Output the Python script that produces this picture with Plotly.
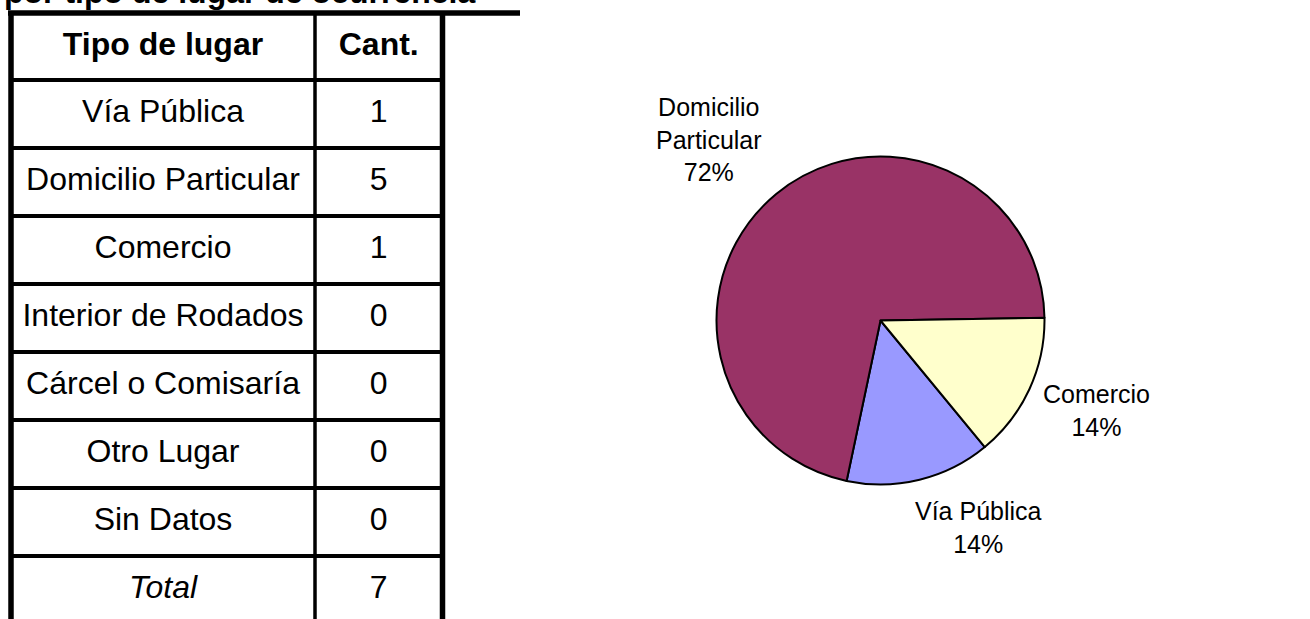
import plotly.graph_objects as go

# ---- data ----
title_text = "por tipo de lugar de ocurrencia"
header = ["Tipo de lugar", "Cant."]
lugares = ["Vía Pública", "Domicilio Particular", "Comercio", "Interior de Rodados",
           "Cárcel o Comisaría", "Otro Lugar", "Sin Datos"]
cantidades = [1, 5, 1, 0, 0, 0, 0]
total_label = "Total"
total_value = 7
pie_colors = {"Vía Pública": "#9999FF", "Domicilio Particular": "#993366", "Comercio": "#FFFFCC"}
pie_pct_text = {"Vía Pública": "14%", "Domicilio Particular": "72%", "Comercio": "14%"}

W, H = 1310, 619
FONT = "Liberation Sans, Arial, sans-serif"

# ---- table geometry (pixel axis) ----
col_left, col_mid, col_right = 11, 315, 442.5
top_y = 13
row0 = 80        # bottom of header
row_h = 68

fig = go.Figure()

# table text via scatter text on a pixel axis
xs, ys, txt = [], [], []
col_c1 = (col_left + col_mid) / 2
col_c2 = (col_mid + col_right) / 2
xs += [col_c1, col_c2]
ys += [(top_y + row0) / 2] * 2
txt += ["<b>%s</b>" % h for h in header]
for i, (l, c) in enumerate(zip(lugares, cantidades)):
    yc = row0 + row_h * i + row_h / 2
    xs += [col_c1, col_c2]
    ys += [yc, yc]
    txt += [l, str(c)]
yc = row0 + row_h * len(lugares) + row_h / 2
xs += [col_c1, col_c2]
ys += [yc, yc]
txt += ["<i>%s</i>" % total_label, str(total_value)]

fig.add_trace(go.Scatter(
    x=xs, y=ys, text=txt, mode="text", textposition="middle center",
    textfont=dict(family=FONT, size=32, color="black"),
    hoverinfo="skip", showlegend=False, xaxis="x", yaxis="y", cliponaxis=False))

# pie
pie_labels = [l for l, c in zip(lugares, cantidades) if c > 0]
pie_values = [c for c in cantidades if c > 0]
cx, cy, r = 880.5, 320.5, 164
fig.add_trace(go.Pie(
    labels=pie_labels, values=pie_values, sort=False, direction="clockwise",
    rotation=140.5, textinfo="none", hoverinfo="skip", showlegend=False,
    marker=dict(colors=[pie_colors[l] for l in pie_labels], line=dict(color="black", width=2)),
    domain=dict(x=[(cx - r) / W, (cx + r) / W], y=[1 - (cy + r) / H, 1 - (cy - r) / H])))

shapes = []
def line(x0, y0, x1, y1, w):
    shapes.append(dict(type="line", xref="x", yref="y", x0=x0, y0=y0, x1=x1, y1=y1,
                       line=dict(color="black", width=w)))

line(8, top_y, 520, top_y, 5.5)
line(col_left, top_y - 2, col_left, H + 5, 5.5)
line(col_right, top_y - 2, col_right, H + 5, 5.5)
line(col_mid, top_y, col_mid, H + 5, 3.5)
for k in range(len(lugares) + 1):
    yk = row0 + row_h * k
    line(col_left, yk, col_right, yk, 4)

annotations = []
# title (cut at top)
annotations.append(dict(text="<b>%s</b>" % title_text, xref="paper", yref="paper",
                        x=2 / W, y=1 + 8 / H,
                        xanchor="left", yanchor="middle", showarrow=False,
                        font=dict(family=FONT, size=32, color="black")))
# pie labels
label_pos = {"Domicilio Particular": (709, 139), "Comercio": (1096, 410), "Vía Pública": (978, 527)}
for l in pie_labels:
    name = l.replace(" ", "<br>") if l == "Domicilio Particular" else l
    px, py = label_pos[l]
    annotations.append(dict(text="%s<br>%s" % (name, pie_pct_text[l]), xref="x", yref="y",
                            x=px, y=py, xanchor="center", yanchor="middle", showarrow=False,
                            align="center", font=dict(family=FONT, size=25, color="black")))

fig.update_layout(
    width=W, height=H, margin=dict(l=0, r=0, t=0, b=0),
    paper_bgcolor="white", plot_bgcolor="white",
    xaxis=dict(range=[0, W], domain=[0, 1], visible=False, fixedrange=True),
    yaxis=dict(range=[H, 0], domain=[0, 1], visible=False, fixedrange=True),
    shapes=shapes, annotations=annotations)

fig.write_html("out.html", config={"displayModeBar": False},
               post_script="document.body.style.margin='0';document.body.style.overflow='hidden';")
